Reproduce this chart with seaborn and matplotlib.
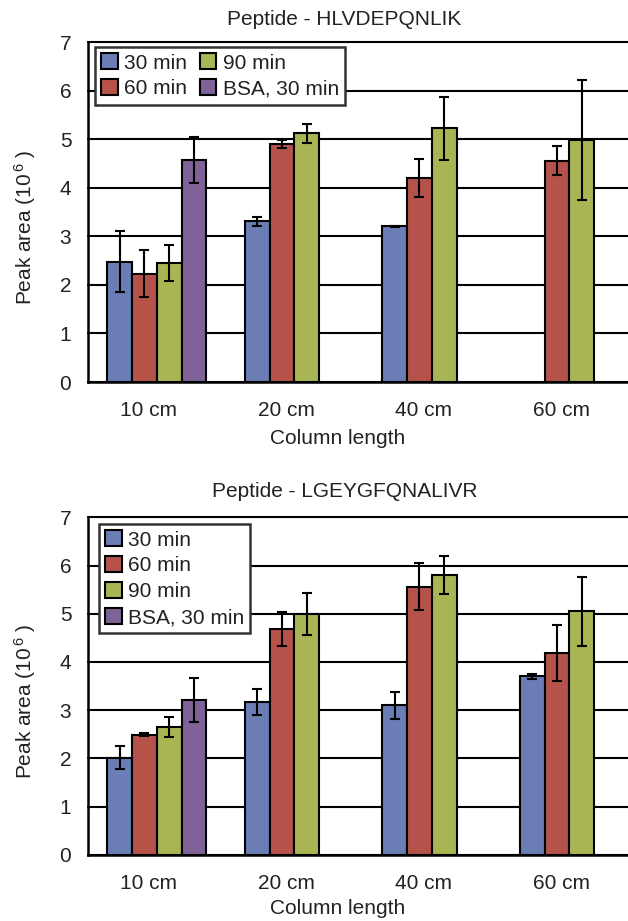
import matplotlib
matplotlib.use("Agg")
import matplotlib.pyplot as plt
import matplotlib.transforms as mtransforms
from matplotlib.patches import Patch
import numpy as np
import pandas as pd
import seaborn as sns

LENGTHS = ["10 cm", "20 cm", "40 cm", "60 cm"]
TIMES = ["30 min", "60 min", "90 min", "BSA, 30 min"]
COLORS = ["#6a7db4", "#b5534b", "#a9b552", "#7f6398"]

# Peptide HLVDEPQNLIK: mean peak area (10^6) and error, per series across LENGTHS
HLV_MEAN = {
    "30 min": [2.48, 3.31, 3.21, np.nan],
    "60 min": [2.23, 4.90, 4.20, 4.56],
    "90 min": [2.45, 5.12, 5.22, 4.98],
    "BSA, 30 min": [4.57, np.nan, np.nan, np.nan],
}
HLV_ERR = {
    "30 min": [0.62, 0.09, 0.01, np.nan],
    "60 min": [0.48, 0.09, 0.39, 0.29],
    "90 min": [0.37, 0.19, 0.64, 1.23],
    "BSA, 30 min": [0.47, np.nan, np.nan, np.nan],
}

# Peptide LGEYGFQNALIVR
LGE_MEAN = {
    "30 min": [2.01, 3.16, 3.10, 3.70],
    "60 min": [2.49, 4.69, 5.56, 4.18],
    "90 min": [2.65, 4.99, 5.80, 5.05],
    "BSA, 30 min": [3.21, np.nan, np.nan, np.nan],
}
LGE_ERR = {
    "30 min": [0.24, 0.27, 0.28, 0.05],
    "60 min": [0.03, 0.35, 0.49, 0.58],
    "90 min": [0.20, 0.44, 0.39, 0.72],
    "BSA, 30 min": [0.46, np.nan, np.nan, np.nan],
}

BAR_WIDTH = 0.72
TEXT_COLOR = "#222222"
FS = 15


def to_long(means, errs):
    rows = []
    for t in TIMES:
        for i, length in enumerate(LENGTHS):
            if not np.isnan(means[t][i]):
                rows.append({"length": length, "time": t,
                             "area": means[t][i], "err": errs[t][i]})
    return pd.DataFrame(rows)


def draw_panel(fig, ax, df, title, ncol, anchor, title_y, xlabel_y):
    sns.barplot(data=df, x="length", y="area", hue="time", order=LENGTHS,
                hue_order=TIMES, palette=COLORS, width=BAR_WIDTH,
                errorbar=None, edgecolor="black", linewidth=1.5,
                saturation=1, legend=False, ax=ax, zorder=2)

    # error bars at the centre of each drawn bar
    slot = BAR_WIDTH / len(TIMES)
    lookup = df.set_index(["length", "time"])["err"]
    for patch in ax.patches:
        xc = patch.get_x() + patch.get_width() / 2
        cat = int(round(xc))
        hue_idx = int(round((xc - cat + BAR_WIDTH / 2) / slot - 0.5))
        err = lookup[(LENGTHS[cat], TIMES[hue_idx])]
        ax.errorbar(xc, patch.get_height(), yerr=err, fmt="none",
                    ecolor="black", elinewidth=1.5, capsize=3.5,
                    capthick=1.5, zorder=3)

    ax.set_ylim(0, 7)
    ax.set_xlim(-0.5, 3.427)
    ax.set_yticks(range(8))
    ax.set_xticks(range(len(LENGTHS)))
    ax.set_xticklabels(LENGTHS)
    ax.set_xticks([-0.5, 0.5, 1.5, 2.5], minor=True)
    ax.tick_params(axis="x", which="major", length=0, pad=14,
                   labelsize=FS, labelcolor=TEXT_COLOR)
    ax.tick_params(axis="x", which="minor", length=6.5, width=1.5,
                   direction="out", color="black")
    ax.tick_params(axis="y", length=6, width=1.5, direction="out",
                   pad=6, labelsize=FS, labelcolor=TEXT_COLOR, color="black")
    shift = mtransforms.ScaledTranslation(-8 / 100, 0, fig.dpi_scale_trans)
    for lab in ax.get_xticklabels():
        lab.set_transform(lab.get_transform() + shift)

    ax.yaxis.grid(True, color="black", linewidth=1.5)
    ax.xaxis.grid(False)
    ax.set_axisbelow(True)
    for line in ax.get_ygridlines():
        line.set_clip_on(False)
    for side in ["top", "right"]:
        ax.spines[side].set_visible(False)
    for side in ["left", "bottom"]:
        ax.spines[side].set_color("black")
        ax.spines[side].set_linewidth(1.8)

    ax.set_ylabel("Peak area (10$^{\\,6}$ )", fontsize=FS, color=TEXT_COLOR,
                  va="center")
    ax.yaxis.set_label_coords(-0.117, 0.455)
    ax.set_xlabel("Column length", fontsize=FS, color=TEXT_COLOR, va="center")
    ax.xaxis.set_label_coords(0.463, xlabel_y)
    ax.text(0.475, title_y, title, transform=ax.transAxes, ha="center",
            va="center", fontsize=FS, color=TEXT_COLOR)

    handles = [Patch(facecolor=c, edgecolor="black", linewidth=1.5)
               for c in COLORS]
    leg = ax.legend(handles, TIMES, ncol=ncol, loc="upper left",
                    bbox_to_anchor=anchor, fontsize=FS, frameon=True,
                    fancybox=False, edgecolor="#333333", framealpha=1,
                    handlelength=0.8, handleheight=0.8, handletextpad=0.3,
                    columnspacing=0.6, labelspacing=0.32, borderpad=0.3,
                    borderaxespad=0)
    leg.get_frame().set_linewidth(1.8)
    for txt in leg.get_texts():
        txt.set_color(TEXT_COLOR)


sns.set_style("white")
plt.rcParams["font.family"] = ["Liberation Sans", "DejaVu Sans"]
plt.rcParams["mathtext.fontset"] = "custom"
plt.rcParams["mathtext.rm"] = "Liberation Sans"
plt.rcParams["mathtext.it"] = "Liberation Sans:italic"

fig = plt.figure(figsize=(6.28, 9.21), dpi=100)
ax_top = fig.add_axes([88 / 628, 1 - 382 / 921, 540 / 628, 340 / 921])
ax_bot = fig.add_axes([88 / 628, 1 - 854.7 / 921, 540 / 628, 337.4 / 921])

draw_panel(fig, ax_top, to_long(HLV_MEAN, HLV_ERR), "Peptide - HLVDEPQNLIK",
           ncol=2, anchor=(0.013, 0.985), title_y=1.065, xlabel_y=-0.165)
draw_panel(fig, ax_bot, to_long(LGE_MEAN, LGE_ERR), "Peptide - LGEYGFQNALIVR",
           ncol=1, anchor=(0.020, 0.980), title_y=1.075, xlabel_y=-0.158)

fig.savefig("out.png", dpi=100)
